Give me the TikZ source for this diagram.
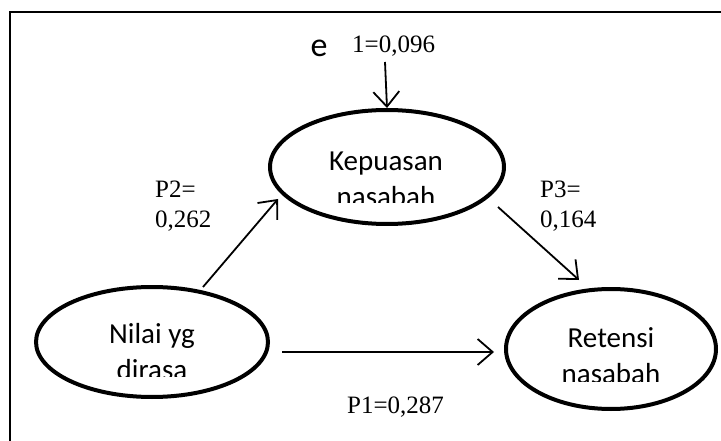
\documentclass[tikz,border=0pt]{standalone}
\usepackage{fontspec}
\setmainfont{Liberation Serif}
\newfontfamily\calib{Carlito}
\usetikzlibrary{arrows.meta,shapes.geometric}
\tikzset{
  ell/.style={draw, line width=4pt, ellipse, inner sep=0pt},
  lbl/.style={font=\fontsize{25}{29}\selectfont, anchor=base west, inner sep=0pt},
  ntext/.style={font=\calib\fontsize{29}{35}\selectfont, anchor=base, inner sep=0pt},
  arr/.style={line width=1.8pt, -{Straight Barb[length=15pt,width=26pt,line width=1.8pt]}},
}
\begin{document}
\begin{tikzpicture}[x=1pt,y=-1pt]
\clip (0,0) rectangle (721,441);
\draw[line width=1.4pt] (10,12) rectangle (740,460);
% ellipses
\node[ell, minimum width=234pt, minimum height=114pt] (kep) at (387,167) {};
\node[ell, minimum width=232pt, minimum height=110pt] (nil) at (152,342) {};
\node[ell, minimum width=210pt, minimum height=120pt] (ret) at (611,349) {};
% ellipse texts (bottom line clipped as in a text box)
\begin{scope}
\clip (250,120) rectangle (520,203);
\node[ntext] (kep1) at (386,171) {Kepuasan};
\node[ntext] (kep2) at (386,207) {nasabah};
\end{scope}
\begin{scope}
\clip (40,300) rectangle (270,376);
\node[ntext] (nil1) at (152,343) {Nilai yg};
\node[ntext] (nil2) at (152,379) {dirasa};
\end{scope}
\begin{scope}
\clip (510,300) rectangle (715,381);
\node[ntext] (ret1) at (611,347) {Retensi};
\node[ntext] (ret2) at (611,383) {nasabah};
\end{scope}
% error term
\node[font=\calib\fontsize{34}{38}\selectfont, anchor=base, inner sep=0pt] (e) at (319,57) {e};
\node[lbl] (e1) at (352,53) {1=0,096};
\coordinate (etop) at (385,62);
\draw[arr] (etop) -- (kep.north);
% paths
\coordinate (p2s) at (203,287);
\coordinate (p2e) at (278,199);
\draw[arr] (p2s) -- (p2e);
\coordinate (p3s) at (498,207);
\coordinate (p3e) at (579,280);
\draw[arr] (p3s) -- (p3e);
\coordinate (p1s) at (282,352);
\coordinate (p1e) at (494,352);
\draw[arr] (p1s) -- (p1e);
% labels
\node[lbl] (p2a) at (155,198) {P2=};
\node[lbl] (p2b) at (155,228) {0,262};
\node[lbl] (p3a) at (540,198) {P3=};
\node[lbl] (p3b) at (540,228) {0,164};
\node[lbl] (p1) at (347,413) {P1=0,287};
\end{tikzpicture}
\end{document}
